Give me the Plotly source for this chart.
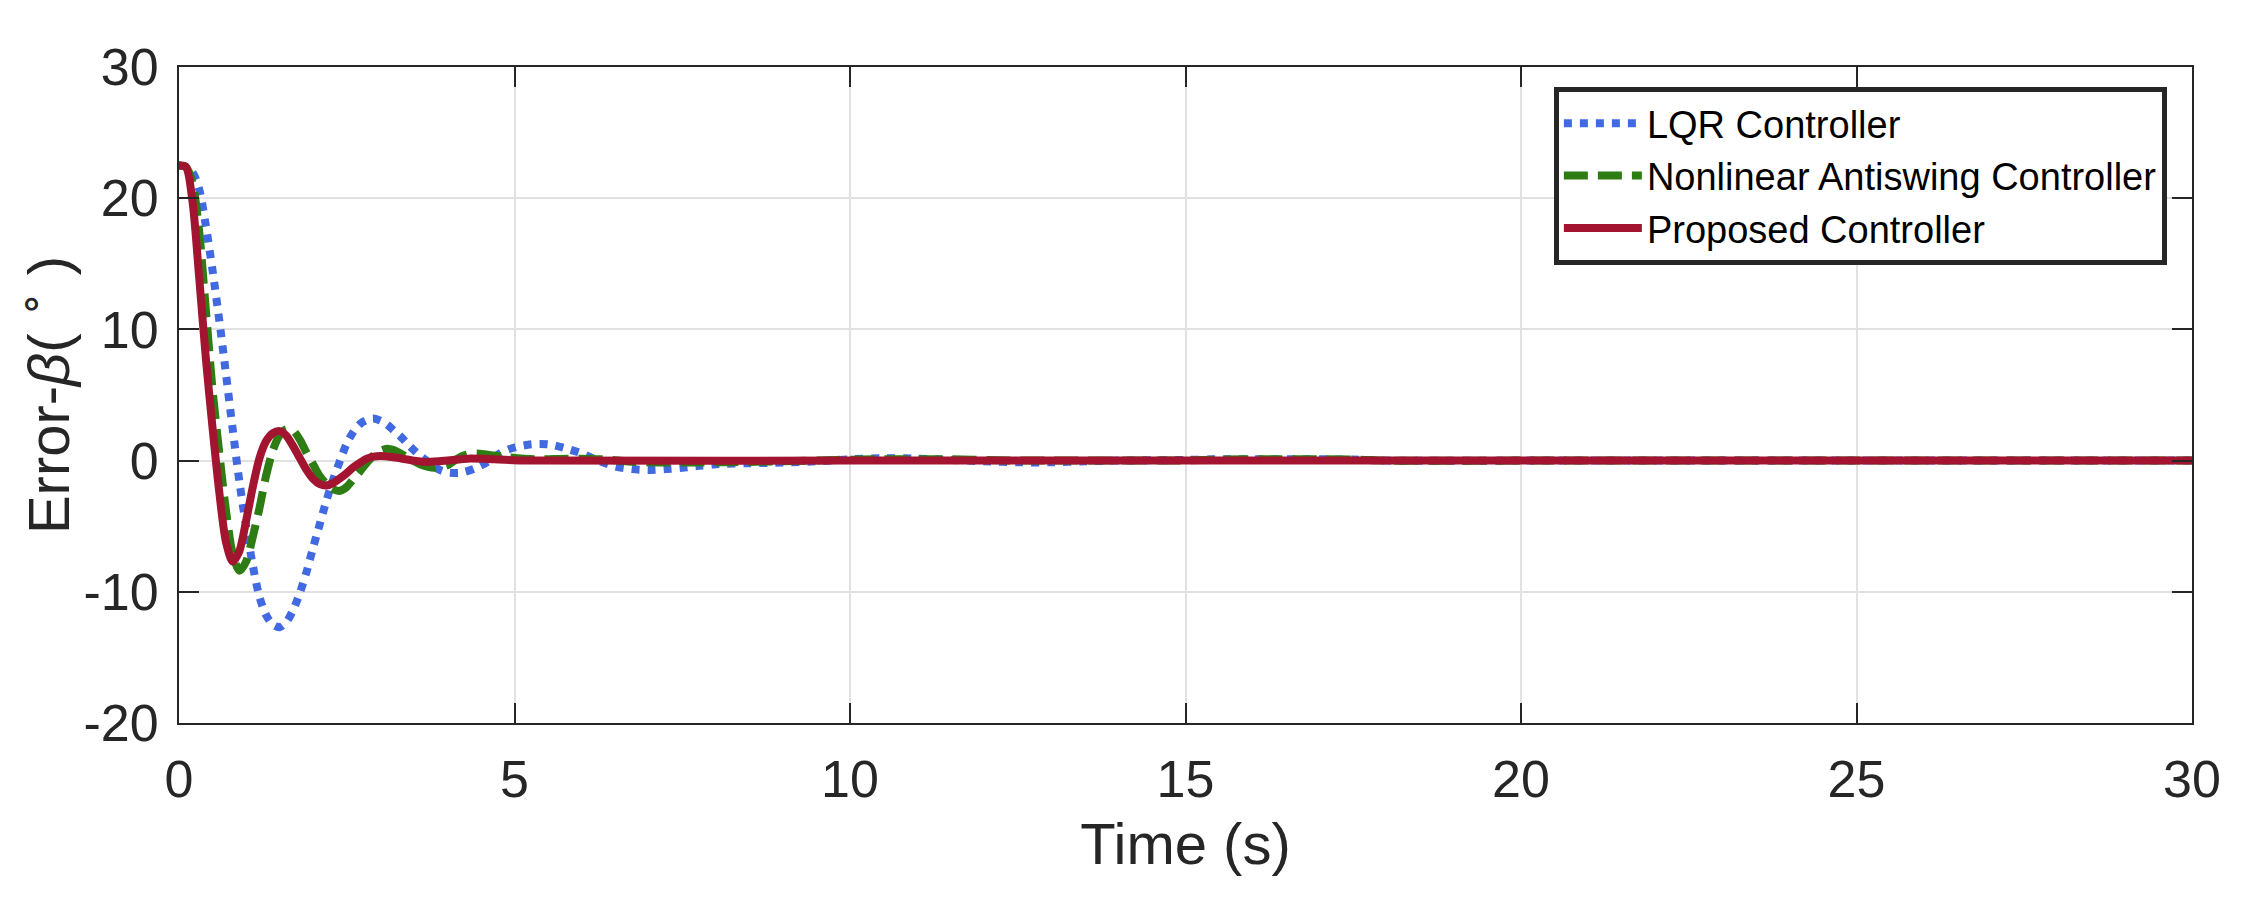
import plotly.graph_objects as go

# ---- data ----
t_lqr = [0, 0.1, 0.2, 0.3, 0.4, 0.5, 0.6, 0.7, 0.8, 0.9, 1.0, 1.1, 1.2, 1.3, 1.4, 1.5, 1.6, 1.7, 1.8, 1.9,
         2.0, 2.1, 2.2, 2.3, 2.4, 2.5, 2.6, 2.7, 2.8, 2.9, 3.0, 3.1, 3.2, 3.3, 3.4, 3.5, 3.6, 3.7, 3.8, 3.9,
         4.0, 4.2, 4.4, 4.6, 4.8, 5.0, 5.25, 5.5, 5.75, 6.0, 6.25, 6.5, 6.75, 7.0, 7.25, 7.5, 7.75, 8.0,
         8.5, 9.0, 9.5, 10.0, 10.5, 11.0, 11.5, 12.0, 12.5, 13.0, 13.5, 14.0, 15.0, 15.5, 16.5, 17.5, 18.0,
         20, 25, 30]
e_lqr = [22.5, 22.4, 22.0, 20.7, 17.9, 14.5, 10.7, 6.6, 2.4, -1.6, -5.0, -8.0, -10.4, -11.8, -12.5, -12.7,
         -12.3, -11.4, -10.1, -8.5, -6.6, -4.8, -3.0, -1.4, 0.0, 1.3, 2.2, 2.8, 3.1, 3.2, 3.05, 2.75, 2.3,
         1.85, 1.3, 0.8, 0.35, -0.05, -0.45, -0.75, -0.9, -0.92, -0.62, -0.1, 0.6, 1.0, 1.24, 1.24, 0.95,
         0.55, 0.0, -0.45, -0.65, -0.72, -0.65, -0.55, -0.4, -0.28, -0.2, -0.15, -0.05, 0.1, 0.18, 0.15,
         0.05, -0.05, -0.13, -0.13, -0.05, 0.0, 0.05, 0.1, 0.1, 0.08, 0.0, 0, 0, 0]

t_nl = [0, 0.1, 0.2, 0.3, 0.4, 0.5, 0.6, 0.7, 0.8, 0.9, 1.0, 1.1, 1.2, 1.3, 1.4, 1.5, 1.6, 1.7, 1.8, 1.9,
        2.0, 2.1, 2.2, 2.3, 2.4, 2.5, 2.6, 2.7, 2.8, 2.9, 3.0, 3.1, 3.2, 3.4, 3.6, 3.8, 4.0, 4.2, 4.4, 4.6,
        4.9, 5.3, 5.8, 6.3, 6.8, 7.5, 8.2, 9.0, 9.8, 10.5, 11.5, 12.2, 13.0, 15.0, 15.5, 17.5, 18.0, 20, 25, 30]
e_nl = [22.5, 22.4, 21.2, 17.5, 11.5, 5.4, 0.6, -3.8, -7.1, -8.4, -7.7, -5.8, -3.6, -1.1, 0.8, 1.95, 2.4,
        2.3, 1.6, 0.6, -0.3, -1.2, -1.8, -2.2, -2.3, -2.0, -1.4, -0.8, -0.15, 0.4, 0.75, 0.9, 0.8, 0.25,
        -0.3, -0.55, -0.35, 0.3, 0.55, 0.45, 0.25, 0.1, 0.15, 0.1, -0.1, -0.15, -0.12, -0.05, 0.05, 0.1,
        0.1, 0.02, 0.0, 0.02, 0.08, 0.08, 0.0, 0, 0, 0]

t_prop = [0, 0.1, 0.2, 0.3, 0.4, 0.5, 0.6, 0.7, 0.8, 0.9, 1.0, 1.1, 1.2, 1.3, 1.4, 1.5, 1.6, 1.7, 1.8, 1.9,
          2.0, 2.1, 2.2, 2.3, 2.4, 2.5, 2.6, 2.7, 2.8, 2.9, 3.0, 3.2, 3.5, 3.7, 4.0, 4.3, 4.7, 5.2, 10, 20, 30]
e_prop = [22.5, 22.4, 19.8, 14.0, 7.8, 2.5, -2.4, -6.2, -7.7, -6.9, -4.6, -2.0, 0.2, 1.5, 2.1, 2.25, 1.9,
          1.1, 0.2, -0.7, -1.4, -1.8, -1.9, -1.7, -1.35, -0.95, -0.5, -0.15, 0.15, 0.3, 0.35, 0.25, 0.0,
          -0.1, 0.0, 0.15, 0.1, 0.0, 0, 0, 0]

series_names = ["LQR Controller", "Nonlinear Antiswing Controller", "Proposed Controller"]
x_ticks = [0, 5, 10, 15, 20, 25, 30]
y_ticks = [-20, -10, 0, 10, 20, 30]

FONT = "Liberation Sans, Arial, Helvetica, sans-serif"
AX = "#262626"

fig = go.Figure()
fig.add_trace(go.Scatter(x=t_lqr, y=e_lqr, mode="lines", name=series_names[0],
                         line=dict(color="#4169E1", width=8, dash="dot", shape="spline", smoothing=0.8)))
fig.add_trace(go.Scatter(x=t_nl, y=e_nl, mode="lines", name=series_names[1],
                         line=dict(color="#2E7D14", width=8, dash="24px,10px", shape="spline", smoothing=0.8)))
fig.add_trace(go.Scatter(x=t_prop, y=e_prop, mode="lines", name=series_names[2],
                         line=dict(color="#A2142F", width=8, shape="spline", smoothing=0.8)))

axis_common = dict(
    showline=True, linecolor=AX, linewidth=2, mirror="ticks",
    ticks="inside", ticklen=20, tickwidth=2, tickcolor=AX,
    showgrid=True, gridcolor="#E1E1E1", gridwidth=2,
    zeroline=False,
    tickfont=dict(family=FONT, size=52, color=AX),
)

fig.update_xaxes(range=[0, 30], tickvals=x_ticks, ticktext=[str(v) for v in x_ticks],
                 title=dict(text="Time (s)", font=dict(family=FONT, size=58, color=AX), standoff=16),
                 ticklabelstandoff=10, **axis_common)
fig.update_yaxes(range=[-20, 30], tickvals=y_ticks, ticktext=[str(v) for v in y_ticks],
                 title=dict(text="Error-<i>β</i>( <sup>∘</sup> )", font=dict(family=FONT, size=58, color=AX), standoff=16),
                 ticklabelstandoff=8, **axis_common)

fig.update_layout(
    width=2250, height=919,
    margin=dict(l=171, r=66, t=59, b=204),
    paper_bgcolor="white", plot_bgcolor="white",
    font=dict(family=FONT, color=AX),
    legend=dict(x=0.683, y=0.9695, xanchor="left", yanchor="top",
                bgcolor="white", bordercolor=AX, borderwidth=5,
                font=dict(family=FONT, size=38, color="black"),
                itemwidth=78, tracegroupgap=0),
    showlegend=True,
)

fig.write_html("out.html")
